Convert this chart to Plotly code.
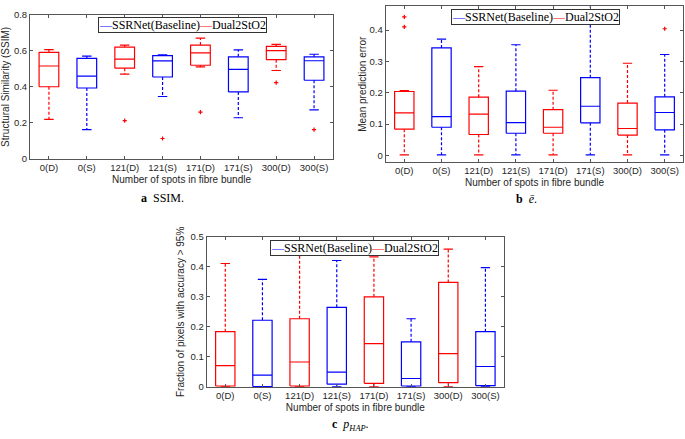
import plotly.graph_objects as go

W, H = 685, 439

categories = ["0(D)", "0(S)", "121(D)", "121(S)", "171(D)", "171(S)", "300(D)", "300(S)"]
methods = ["D", "S", "D", "S", "D", "S", "D", "S"]   # D = Dual2StO2, S = SSRNet(Baseline)
positions = [1, 2, 3, 4, 5, 6, 7, 8]

# ---- (a) SSIM ----
ssim_lw = [0.220, 0.163, 0.471, 0.347, 0.511, 0.229, 0.491, 0.273]
ssim_q1 = [0.401, 0.394, 0.504, 0.455, 0.520, 0.372, 0.551, 0.437]
ssim_med = [0.516, 0.460, 0.554, 0.544, 0.589, 0.497, 0.601, 0.545]
ssim_q3 = [0.592, 0.558, 0.621, 0.574, 0.632, 0.567, 0.625, 0.567]
ssim_uw = [0.607, 0.571, 0.632, 0.578, 0.670, 0.605, 0.636, 0.581]
ssim_out = [[], [], [0.213], [0.114], [0.260], [], [0.424], [0.163]]

# ---- (b) mean prediction error ----
err_lw = [0.002, 0.002, 0.002, 0.002, 0.002, 0.002, 0.002, 0.002]
err_q1 = [0.084, 0.090, 0.067, 0.071, 0.071, 0.104, 0.065, 0.082]
err_med = [0.136, 0.124, 0.132, 0.105, 0.090, 0.157, 0.086, 0.137]
err_q3 = [0.204, 0.343, 0.186, 0.205, 0.146, 0.248, 0.167, 0.187]
err_uw = [0.207, 0.371, 0.283, 0.353, 0.208, 0.520, 0.294, 0.322]
err_out = [[0.442, 0.410], [], [], [], [], [], [], [0.404]]

# ---- (c) p_HAP ----
hap_lw = [0.0, 0.0, 0.0, 0.0, 0.0, 0.0, 0.0, 0.0]
hap_q1 = [0.003, 0.001, 0.003, 0.009, 0.012, 0.003, 0.014, 0.004]
hap_med = [0.071, 0.039, 0.083, 0.049, 0.144, 0.028, 0.111, 0.068]
hap_q3 = [0.184, 0.222, 0.227, 0.265, 0.300, 0.150, 0.348, 0.184]
hap_uw = [0.411, 0.358, 0.470, 0.421, 0.433, 0.227, 0.459, 0.397]
hap_out = [[], [], [], [], [], [], [], []]

COLORS = {"D": "#FF0000", "S": "#0000FF"}
BOX_HW = 0.26
CAP_HW = 0.125
LW = 1.2
AXIS_COLOR = "#555555"
TEXT_COLOR = "#262626"
SANS = "Liberation Sans, Arial, sans-serif"
SERIF = "Liberation Serif, Times New Roman, serif"

fig = go.Figure()


def add_boxes(stats, xa, ya):
    lw, q1, med, q3, uw, out = stats
    for grp in ["D", "S"]:
        col = COLORS[grp]
        bx, by, mx, my, wx, wy, cx, cy = [], [], [], [], [], [], [], []
        for i, p in enumerate(positions):
            if methods[i] != grp:
                continue
            bx += [p - BOX_HW, p + BOX_HW, p + BOX_HW, p - BOX_HW, p - BOX_HW, None]
            by += [q1[i], q1[i], q3[i], q3[i], q1[i], None]
            mx += [p - BOX_HW, p + BOX_HW, None]
            my += [med[i], med[i], None]
            wx += [p, p, None, p, p, None]
            wy += [q3[i], uw[i], None, q1[i], lw[i], None]
            cx += [p - CAP_HW, p + CAP_HW, None, p - CAP_HW, p + CAP_HW, None]
            cy += [uw[i], uw[i], None, lw[i], lw[i], None]
        common = dict(xaxis=xa, yaxis=ya, mode="lines", showlegend=False, hoverinfo="skip")
        fig.add_trace(go.Scatter(x=wx, y=wy, line=dict(color=col, width=LW, dash="3px,2px"), **common))
        fig.add_trace(go.Scatter(x=cx, y=cy, line=dict(color=col, width=LW), **common))
        fig.add_trace(go.Scatter(x=bx, y=by, line=dict(color=col, width=LW), **common))
        fig.add_trace(go.Scatter(x=mx, y=my, line=dict(color=col, width=LW), **common))
    ox, oy = [], []
    for i, p in enumerate(positions):
        for v in out[i]:
            ox.append(p)
            oy.append(v)
    fig.add_trace(go.Scatter(x=ox, y=oy, xaxis=xa, yaxis=ya, mode="markers", showlegend=False,
                             marker=dict(symbol="cross-thin", size=3, color="#FF0000",
                                         line=dict(color="#FF0000", width=1.2))))


add_boxes((ssim_lw, ssim_q1, ssim_med, ssim_q3, ssim_uw, ssim_out), "x", "y")
add_boxes((err_lw, err_q1, err_med, err_q3, err_uw, err_out), "x2", "y2")
add_boxes((hap_lw, hap_q1, hap_med, hap_q3, hap_uw, hap_out), "x3", "y3")


def xaxis_cfg(x0, x1):
    return dict(domain=[x0 / W, x1 / W], range=[0.5, 8.5], tickvals=positions, ticktext=categories,
                ticks="inside", ticklen=3, tickcolor=AXIS_COLOR, showline=True, linecolor=AXIS_COLOR,
                linewidth=1, mirror="allticks", showgrid=False, zeroline=False,
                tickfont=dict(family=SANS, size=9.5, color=TEXT_COLOR),
                title=dict(text="Number of spots in fibre bundle", standoff=3,
                           font=dict(family=SANS, size=10, color=TEXT_COLOR)))


def yaxis_cfg(ytop_px, ybot_px, rng, dtick, title, standoff, anchor):
    return dict(domain=[(H - ybot_px) / H, (H - ytop_px) / H], range=rng, dtick=dtick, tick0=0,
                ticks="inside", ticklen=3, tickcolor=AXIS_COLOR, showline=True, linecolor=AXIS_COLOR,
                linewidth=1, mirror="allticks", showgrid=False, zeroline=False, anchor=anchor,
                tickfont=dict(family=SANS, size=9.5, color=TEXT_COLOR),
                title=dict(text=title, standoff=standoff,
                           font=dict(family=SANS, size=10, color=TEXT_COLOR)))


fig.update_layout(
    width=W, height=H, margin=dict(l=0, r=0, t=0, b=0),
    paper_bgcolor="white", plot_bgcolor="white", showlegend=False,
    xaxis=dict(xaxis_cfg(30, 333), anchor="y"),
    yaxis=yaxis_cfg(9, 157, [0, 0.8], 0.2, "Structural Similarity (SSIM)", 2, "x"),
    xaxis2=dict(xaxis_cfg(385.7, 683.3), anchor="y2"),
    yaxis2=yaxis_cfg(0.5, 160, [-0.0207, 0.475], 0.1, "Mean prediction error", 1, "x2"),
    xaxis3=dict(xaxis_cfg(206.7, 504), anchor="y3"),
    yaxis3=yaxis_cfg(236.7, 390.7, [0, 0.5], 0.1, "Fraction of pixels with accuracy > 95%", 4, "x3"),
)

legend_text = ('<span style="color:#0000FF">—</span>SSRNet(Baseline)'
               '<span style="color:#FF0000">—</span>Dual2StO2')
for cx_px, cy_px in [(182.2, 20), (535, 11.5), (354.5, 248)]:
    fig.add_annotation(x=cx_px / W, y=(H - cy_px) / H, xref="paper", yref="paper",
                       xanchor="center", yanchor="middle", showarrow=False, text=legend_text,
                       font=dict(family=SERIF, size=12, color="#000000"),
                       bgcolor="white", bordercolor="#333333", borderwidth=1, borderpad=0)

captions = [
    (162, 197, "<b>a</b>  SSIM."),
    (526, 198, "<b>b</b>  <i>ē</i>."),
    (350, 430, "<b>c</b>  <i>p</i><sub><i>HAP</i></sub>."),
]
for cx_px, cy_px, txt in captions:
    fig.add_annotation(x=cx_px / W, y=(H - cy_px) / H, xref="paper", yref="paper",
                       xanchor="center", yanchor="middle", showarrow=False, text=txt,
                       font=dict(family=SERIF, size=12, color="#000000"))

fig.write_html("out.html", config={"displayModeBar": False},
               post_script="document.body.style.margin='0';")
